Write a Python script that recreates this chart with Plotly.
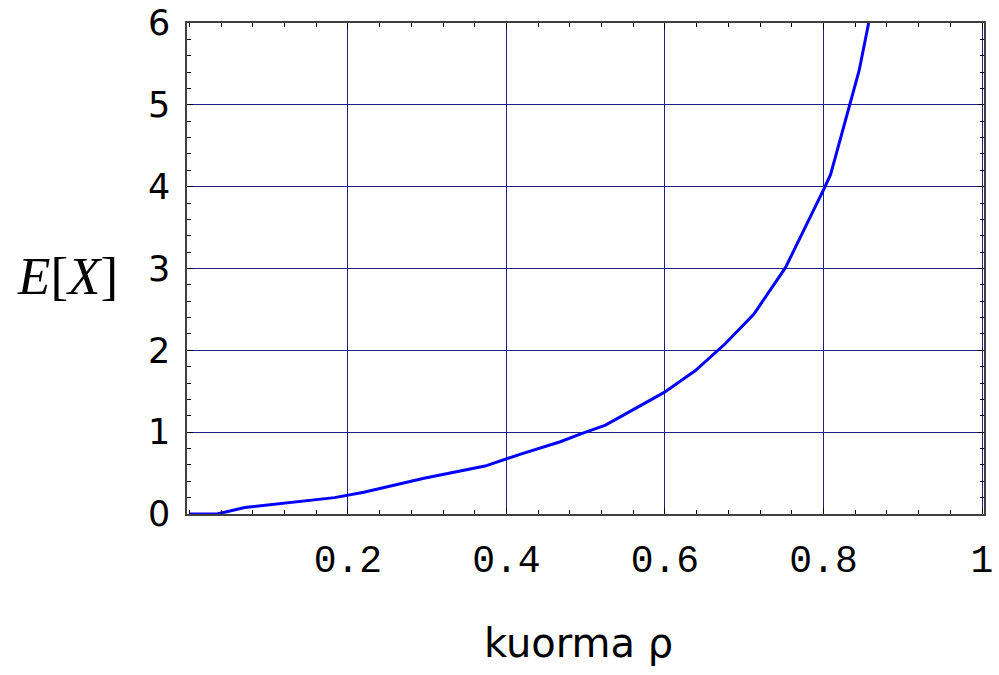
import plotly.graph_objects as go

# Data (kuorma rho vs E[X])
rho = [0.0, 0.035, 0.070, 0.183, 0.220, 0.296, 0.373, 0.417, 0.468, 0.493,
       0.525, 0.599, 0.638, 0.676, 0.712, 0.752, 0.802, 0.809, 0.845, 0.857]
ex = [0.0, 0.0, 0.08, 0.20, 0.265, 0.436, 0.586, 0.729, 0.883, 0.977,
      1.087, 1.486, 1.75, 2.08, 2.44, 3.01, 4.0, 4.15, 5.42, 6.0]

x_ticks = [0.2, 0.4, 0.6, 0.8, 1.0]
x_ticktext = ["0.2", "0.4", "0.6", "0.8", "1"]
y_ticks = [0, 1, 2, 3, 4, 5, 6]

grid_color = "#202088"
frame_color = "#404040"

fig = go.Figure()
fig.add_trace(go.Scatter(x=rho, y=ex, mode="lines",
                         line=dict(color="#0000ff", width=3),
                         showlegend=False))

fig.update_layout(
    width=999, height=675,
    margin=dict(l=187, r=15, t=23, b=161),
    paper_bgcolor="white", plot_bgcolor="white",
    xaxis=dict(
        range=[-0.003, 1.0025], automargin=False,
        tickmode="array", tickvals=x_ticks, ticktext=x_ticktext,
        ticks="inside", ticklen=6, tickcolor="black",
        tickfont=dict(family="Liberation Mono", size=38, color="black"),
        ticklabelstandoff=11,
        showgrid=True, gridcolor=grid_color, gridwidth=1,
        zeroline=False,
        showline=True, linecolor=frame_color, linewidth=1.5, mirror="ticks",
        minor=dict(tickmode="linear", tick0=0, dtick=0.04, ticks="inside",
                   ticklen=4, tickcolor="black", showgrid=False),
    ),
    yaxis=dict(
        range=[0, 6], automargin=False,
        tickmode="array", tickvals=y_ticks,
        ticks="inside", ticklen=6, tickcolor="black",
        tickfont=dict(family="DejaVu Sans", size=35, color="black"),
        ticklabelstandoff=8,
        showgrid=True, gridcolor=grid_color, gridwidth=1,
        zeroline=False,
        showline=True, linecolor=frame_color, linewidth=1.5, mirror="ticks",
        minor=dict(tickmode="linear", tick0=0, dtick=0.2, ticks="inside",
                   ticklen=4, tickcolor="black", showgrid=False),
    ),
    annotations=[
        dict(text="kuorma ρ", xref="paper", yref="paper",
             x=(578 - 187) / 797, y=-(643 - 514) / 491,
             xanchor="center", yanchor="middle", showarrow=False,
             font=dict(family="DejaVu Sans", size=40, color="black")),
        dict(text="<i>E</i>[<i>X</i>]", xref="paper", yref="paper",
             x=(67.5 - 187) / 797, y=(514 - 276) / 491,
             xanchor="center", yanchor="middle", showarrow=False,
             font=dict(family="Liberation Serif", size=53, color="black")),
    ],
)

fig.write_html("out.html")
